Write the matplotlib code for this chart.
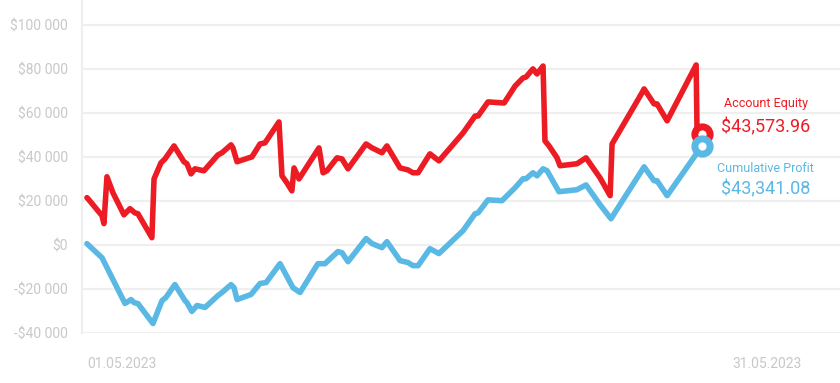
import matplotlib.pyplot as plt

plt.rcParams['font.family'] = ['Roboto', 'DejaVu Sans']

RED = '#ed1c24'
BLUE = '#5ab8e4'
GREY_TXT = '#c8c8c8'
GRID = '#efefef'

# day of month (fractional) and values in $
equity_days = [1.00, 1.05, 1.70, 1.79, 1.93, 2.21, 2.72, 3.00, 3.23, 3.37,
               4.02, 4.12, 4.44, 4.63, 5.05, 5.51, 5.65, 5.84, 6.02, 6.44,
               7.09, 7.28, 7.70, 7.79, 7.98, 8.53, 8.67, 9.05, 9.28, 9.93,
               10.07, 10.30, 10.53, 10.63, 10.86, 11.79, 11.98, 12.16, 12.63, 12.86,
               13.14, 13.98, 14.26, 14.72, 14.95, 15.56, 15.93, 16.16, 16.40, 16.95,
               17.37, 18.49, 19.05, 19.19, 19.65, 20.40, 20.91, 21.28, 21.42, 21.74,
               21.93, 22.21, 22.30, 22.49, 22.86, 23.00, 23.79, 24.21, 24.86, 25.33,
               25.42, 25.56, 26.81, 26.91, 27.37, 27.51, 27.98, 29.33, 29.37, 29.60]
equity = [21500, 21000, 13300, 9700, 31000, 23700, 13700, 16500, 14600, 14200,
          3300, 30000, 37300, 39100, 45000, 37800, 36900, 32300, 34600, 33700,
          40900, 41900, 45500, 44100, 37800, 39600, 40000, 45900, 46400, 55900,
          31400, 28200, 24600, 35000, 30000, 44100, 32800, 33700, 39600, 39100,
          34600, 45900, 44100, 41900, 45000, 35000, 34100, 32800, 32800, 41400,
          38200, 50900, 58600, 58600, 65000, 64500, 72200, 75900, 76300, 80000,
          77700, 81300, 47300, 45000, 39600, 36000, 36900, 39600, 30500, 22400,
          45900, 48200, 69100, 70900, 64100, 64100, 56400, 81800, 52700, 50500]

profit_days = [1.00, 1.70, 1.84, 2.77, 3.05, 3.19, 3.37, 4.07, 4.49, 4.67,
               5.09, 5.56, 5.65, 5.88, 6.12, 6.49, 7.09, 7.28, 7.70, 7.84,
               7.98, 8.63, 9.05, 9.33, 9.98, 10.58, 10.91, 11.74, 12.07, 12.67,
               12.86, 13.14, 13.98, 14.26, 14.72, 14.95, 15.56, 15.93, 16.16, 16.40,
               16.95, 17.37, 18.49, 19.05, 19.19, 19.65, 20.30, 20.91, 21.28, 21.42,
               21.74, 21.93, 22.21, 22.40, 22.95, 23.79, 24.21, 24.86, 25.37, 26.91,
               27.37, 27.51, 27.98, 29.60]
profit = [600, -5800, -8500, -26600, -24800, -26200, -26600, -35700, -25300, -23900,
          -18000, -25300, -26200, -30200, -27500, -28400, -23000, -21600, -18000, -19400,
          -24800, -22500, -17500, -17100, -8500, -19400, -21600, -8500, -8500, -3000,
          -3500, -7600, 2900, 600, -1200, 1500, -7100, -8000, -9400, -9400,
          -1700, -3900, 6500, 14200, 14600, 20500, 20100, 26000, 30100, 30100,
          32800, 31400, 34600, 33700, 24200, 25100, 27300, 18300, 11900, 35500,
          29200, 29200, 22400, 45000]

yticks = [-40000, -20000, 0, 20000, 40000, 60000, 80000, 100000]
ytick_labels = ['-$40 000', '-$20 000', '$0', '$20 000', '$40 000',
                '$60 000', '$80 000', '$100 000']
xticks = [1, 31]
xtick_labels = ['01.05.2023', '31.05.2023']

equity_title, equity_text = 'Account Equity', '$43,573.96'
profit_title, profit_text = 'Cumulative Profit', '$43,341.08'

fig = plt.figure(figsize=(8.4, 3.83), dpi=100)
ax = fig.add_axes([82 / 840, 50 / 383, 1 - 82 / 840, 333 / 383])

ax.plot(equity_days, equity, color=RED, lw=4, solid_joinstyle='round',
        solid_capstyle='round', zorder=3)
ax.plot(profit_days, profit, color=BLUE, lw=4, solid_joinstyle='round',
        solid_capstyle='round', zorder=4)
ax.plot(equity_days[-1], equity[-1], 'o', ms=11, mew=5, mfc='white', mec=RED, zorder=5)
ax.plot(profit_days[-1], profit[-1], 'o', ms=11, mew=5, mfc='white', mec=BLUE, zorder=6)

# end labels
ax.annotate(equity_title, (equity_days[-1], equity[-1]), xytext=(46, 22),
            textcoords='offset points', ha='center', va='center', color=RED, fontsize=9)
ax.annotate(equity_text, (equity_days[-1], equity[-1]), xytext=(46, 5),
            textcoords='offset points', ha='center', va='center', color=RED, fontsize=13)
ax.annotate(profit_title, (profit_days[-1], profit[-1]), xytext=(46, -16),
            textcoords='offset points', ha='center', va='center', color=BLUE, fontsize=9)
ax.annotate(profit_text, (profit_days[-1], profit[-1]), xytext=(46, -31),
            textcoords='offset points', ha='center', va='center', color=BLUE, fontsize=13)

ax.set_ylim(-40000, 111300)
ax.set_xlim(0.77, 36.02)
ax.set_yticks(yticks)
ax.set_yticklabels(ytick_labels)
ax.set_xticks(xticks)
ax.set_xticklabels(xtick_labels, ha='left')
ax.tick_params(axis='both', length=0, labelsize=10, labelcolor=GREY_TXT)
ax.tick_params(axis='y', pad=10)
ax.tick_params(axis='x', pad=17)
ax.grid(axis='y', color=GRID, lw=1.6)
ax.set_axisbelow(True)
for s in ['top', 'right', 'bottom']:
    ax.spines[s].set_visible(False)
ax.spines['left'].set_color(GRID)
ax.spines['left'].set_linewidth(1.6)

fig.savefig('out.png', dpi=100)
